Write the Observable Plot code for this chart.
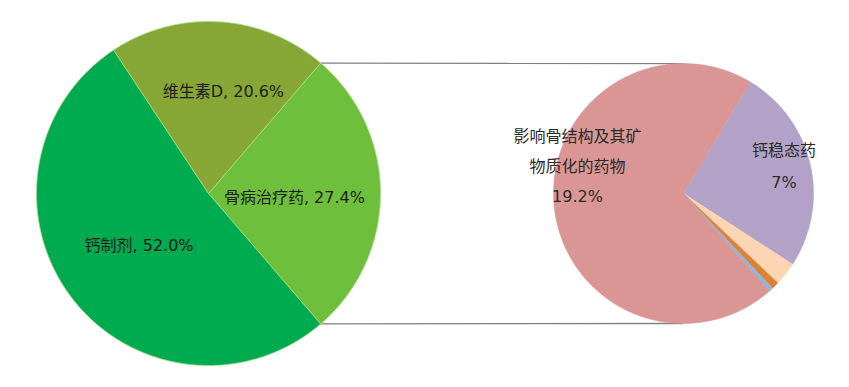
<!DOCTYPE html>
<html><head><meta charset="utf-8">
<script src="https://cdn.jsdelivr.net/npm/d3@7"></script>
<script src="https://cdn.jsdelivr.net/npm/@observablehq/plot@0.6"></script>
<style>html,body{margin:0;padding:0;background:#fff;}</style>
</head><body><div id="chart"></div>
<script>
// Main pie
const mainNames = ["骨病治疗药", "钙制剂", "维生素D"];
const mainValues = [27.4, 52.0, 20.6];
const mainLabels = ["骨病治疗药, 27.4%", "钙制剂, 52.0%", "维生素D, 20.6%"];
const mainColors = ["#6ebf3b", "#00aa4f", "#86a636"];
// Secondary pie (breakdown of 骨病治疗药)
const subNames = ["钙稳态药", "其他1", "其他2", "其他3", "影响骨结构及其矿物质化的药物"];
const subValues = [7.0, 0.8, 0.25, 0.15, 19.2];
const subLabels = [["钙稳态药", "7%"], null, null, null, ["影响骨结构及其矿", "物质化的药物", "19.2%"]];
const subColors = ["#b3a2c7", "#fcd5b5", "#dc8236", "#95b3d7", "#d99694"];

const W = 849, H = 387;
const L = {cx: 208, cy: 193, r: 172};
const R = {cx: 683, cy: 193, r: 130};
const rad = Math.PI / 180;

const mainHalf = mainValues[0] / d3.sum(mainValues) * Math.PI; // focus slice centered at 3 o'clock
const mainArcs = d3.pie().sort(null).startAngle(Math.PI / 2 - mainHalf).endAngle(Math.PI / 2 - mainHalf + 2 * Math.PI)(mainValues);
const subArcs = d3.pie().sort(null).startAngle(31 * rad).endAngle(31 * rad + 2 * Math.PI)(subValues);

const pt = (c, a, f) => [c.cx + c.r * f * Math.sin(a), c.cy - c.r * f * Math.cos(a)];
function polys(arcs, c, names, colors) {
  const out = [];
  arcs.forEach((d, i) => {
    const n = Math.max(4, Math.ceil((d.endAngle - d.startAngle) / (0.5 * rad)));
    const [x0, y0] = [c.cx, c.cy];
    out.push({k: names[i], x: x0, y: y0, c: colors[i]});
    for (let j = 0; j <= n; j++) {
      const a = d.startAngle + (d.endAngle - d.startAngle) * j / n;
      const [x, y] = pt(c, a, 1);
      out.push({k: names[i], x, y, c: colors[i]});
    }
    out.push({k: names[i], x: x0, y: y0, c: colors[i]});
  });
  return out;
}
const mainPoly = polys(mainArcs, L, mainNames, mainColors);
const subPoly = polys(subArcs, R, subNames, subColors);

// label layout (radial fraction and angle tweak in degrees)
const mainLabLayout = [{f: 0.5, da: 2.7}, {f: 0.506, da: 0}, {f: 0.6, da: 4.7}];
const mainText = mainArcs.map((d, i) => {
  const a = (d.startAngle + d.endAngle) / 2 + mainLabLayout[i].da * rad;
  const [x, y] = pt(L, a, mainLabLayout[i].f);
  return {x, y, t: mainLabels[i]};
});
const subLabLayout = [{f: 0.8, da: -2}, null, null, null, {f: 0.84, da: 19}];
const subSpacing = [32, 0, 0, 0, 30];
const subText = [];
subArcs.forEach((d, i) => {
  if (!subLabels[i]) return;
  const a = (d.startAngle + d.endAngle) / 2 + subLabLayout[i].da * rad;
  const [x, y] = pt(R, a, subLabLayout[i].f);
  const lines = subLabels[i];
  lines.forEach((t, j) => subText.push({x, y: y + (j - (lines.length - 1) / 2) * subSpacing[i], t}));
});

// connector lines: from focus slice edges to top/bottom of secondary pie
const a0 = mainArcs[0].startAngle, a1 = mainArcs[0].endAngle;
const links = [
  {p: pt(L, a0, 1), q: [R.cx, R.cy - R.r]},
  {p: pt(L, a1, 1), q: [R.cx, R.cy + R.r]}
].map(d => ({x1: d.p[0], y1: d.p[1], x2: d.q[0], y2: d.q[1]}));

const font = "'DejaVu Sans', 'Noto Sans CJK SC', sans-serif";
const chart = Plot.plot({
  width: W, height: H, margin: 0,
  x: {domain: [0, W], range: [0, W], axis: null},
  y: {domain: [0, H], range: [0, H], axis: null},
  style: {background: "#fff", fontFamily: font},
  marks: [
    Plot.link(links, {x1: "x1", y1: "y1", x2: "x2", y2: "y2", stroke: "#808080", strokeWidth: 1.3}),
    Plot.line(mainPoly, {x: "x", y: "y", z: "k", fill: d => d.c, stroke: "#a6dc86", strokeWidth: 0.8, curve: "linear"}),
    Plot.line(subPoly, {x: "x", y: "y", z: "k", fill: d => d.c, stroke: d => d.c, strokeWidth: 0.5, curve: "linear"}),
    Plot.text(mainText, {x: "x", y: "y", text: "t", fontSize: 16, fill: "#1c1c1c", fontFamily: font}),
    Plot.text(subText, {x: "x", y: "y", text: "t", fontSize: 16, fill: "#2a2a2a", fontFamily: font})
  ]
});
document.getElementById("chart").appendChild(chart);
</script>
</body></html>
